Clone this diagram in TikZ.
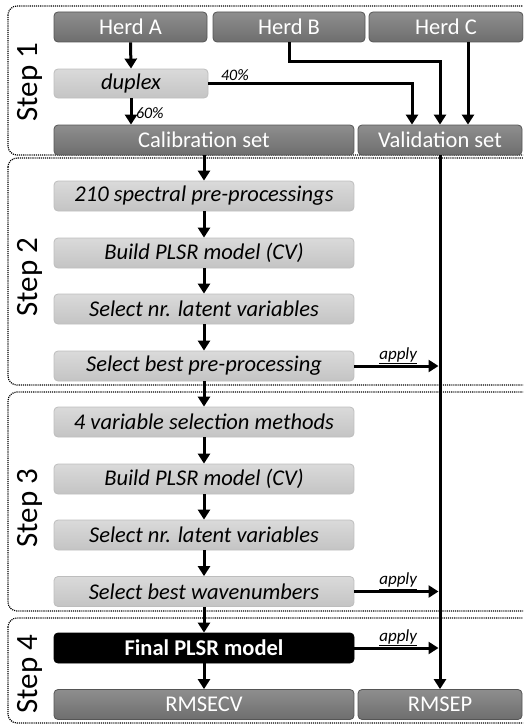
\documentclass[tikz,border=0pt]{standalone}
\usepackage{fontspec}
\setmainfont{Carlito}
\usetikzlibrary{arrows.meta}
\definecolor{dkTop}{HTML}{8E8E8E}
\definecolor{dkBot}{HTML}{6E6E6E}
\definecolor{dkLine}{HTML}{555555}
\definecolor{ltTop}{HTML}{DADADA}
\definecolor{ltBot}{HTML}{C4C4C4}
\definecolor{ltLine}{HTML}{BDBDBD}
\tikzset{
  boxbase/.style={rounded corners=4pt, minimum height=30pt, inner sep=0pt, line width=0.8pt},
  darkbox/.style={boxbase, draw=dkLine, top color=dkTop, bottom color=dkBot, text=white,
    font=\fontsize{22.5}{24}\selectfont},
  lightbox/.style={boxbase, draw=ltLine, top color=ltTop, bottom color=ltBot, text=black,
    font=\itshape\fontsize{22.5}{24}\selectfont},
  blackbox/.style={boxbase, draw=black, fill=black, text=white,
    font=\bfseries\fontsize{22.5}{24}\selectfont},
  arr/.style={line width=3pt, -{Triangle[length=10pt,width=12pt]}},
  stepframe/.style={draw, line width=1.2pt, dash pattern=on 1.1pt off 1.0pt, rounded corners=9pt},
  steplabel/.style={rotate=90, font=\fontsize{31}{32}\selectfont},
  pct/.style={font=\itshape\fontsize{16}{17}\selectfont, inner sep=1pt},
  applylbl/.style={font=\itshape\fontsize{17}{18}\selectfont, inner sep=0.5pt, anchor=south},
}
\begin{document}
\begin{tikzpicture}[x=1pt,y=-1pt]
\useasboundingbox (0,0) rectangle (523,725);
\clip (0,0) rectangle (523,725);

% step frames
\draw[stepframe] (8,6) rectangle (535,155);
\draw[stepframe] (8,158) rectangle (535,385);
\draw[stepframe] (8,392) rectangle (535,611);
\draw[stepframe] (8,618) rectangle (535,723);

\node[steplabel] (s1) at (30,82) {Step 1};
\node[steplabel] (s2) at (30,277) {Step 2};
\node[steplabel] (s3) at (30,508) {Step 3};
\node[steplabel] (s4) at (30,674) {Step 4};

% step 1
\node[darkbox, minimum width=153pt] (herdA) at (130.5,27) {Herd A};
\node[darkbox, minimum width=152pt] (herdB) at (289,27) {Herd B};
\node[darkbox, minimum width=154pt] (herdC) at (446,27) {Herd C};
\node[lightbox, minimum width=154pt, minimum height=29pt] (duplex) at (131,83.5) {duplex};
\node[darkbox, minimum width=300pt] (cal) at (204,140) {Calibration set};
\node[darkbox, minimum width=164pt] (val) at (440,140) {Validation set};

% step 2
\node[lightbox, minimum width=300pt] (pre) at (204,196) {210 spectral pre-processings};
\node[lightbox, minimum width=300pt] (build1) at (204,253) {Build PLSR model (CV)};
\node[lightbox, minimum width=300pt] (lat1) at (204,309) {Select nr. latent variables};
\node[lightbox, minimum width=300pt] (best1) at (204,366) {Select best pre-processing};

% step 3
\node[lightbox, minimum width=300pt] (var4) at (204,422) {4 variable selection methods};
\node[lightbox, minimum width=300pt] (build2) at (204,479) {Build PLSR model (CV)};
\node[lightbox, minimum width=300pt] (lat2) at (204,535) {Select nr. latent variables};
\node[lightbox, minimum width=300pt] (wave) at (204,591.5) {Select best wavenumbers};

% step 4
\node[blackbox, minimum width=300pt] (final) at (204,648) {Final PLSR model};
\node[darkbox, minimum width=300pt] (rmsecv) at (204,704.5) {RMSECV};
\node[darkbox, minimum width=164pt] (rmsep) at (440,704.5) {RMSEP};

% helper coordinates
\coordinate (vl) at (438.5,0);
\coordinate (bB) at (0,62);
\coordinate (dx) at (412,0);
\coordinate (hc) at (468,0);

% step 1 connectors
\draw[arr] (herdA.south) -- (duplex.north);
\draw[arr] (duplex.south) -- (duplex.south |- cal.north)
  node[pct, pos=0.55, right, xshift=2.5pt] {60\%};
\draw[arr] (duplex.east) -- (duplex.east -| dx)
  node[pct, pos=0.13, above] {40\%} -- (dx |- val.north);
\draw[arr] (herdB.south) -- (herdB.south |- bB) -- (bB -| val.north) -- (val.north);
\draw[arr] (herdC.south -| hc) -- (hc |- val.north);

% main chain
\draw[arr] (cal.south -| pre.north) -- (pre.north);
\draw[arr] (pre) -- (build1);
\draw[arr] (build1) -- (lat1);
\draw[arr] (lat1) -- (best1);
\draw[arr] (best1) -- (var4);
\draw[arr] (var4) -- (build2);
\draw[arr] (build2) -- (lat2);
\draw[arr] (lat2) -- (wave);
\draw[arr] (wave) -- (final);
\draw[arr] (final) -- (rmsecv);

% validation line
\draw[arr] (val.south) -- (rmsep.north);

% apply arrows
\draw[arr] (best1.east) -- (best1.east -| vl)
  node[applylbl, pos=0.52] {\underline{apply}};
\draw[arr] (wave.east) -- (wave.east -| vl)
  node[applylbl, pos=0.52] {\underline{apply}};
\draw[arr] (final.east) -- (final.east -| vl)
  node[applylbl, pos=0.52] {\underline{apply}};
\end{tikzpicture}
\end{document}
